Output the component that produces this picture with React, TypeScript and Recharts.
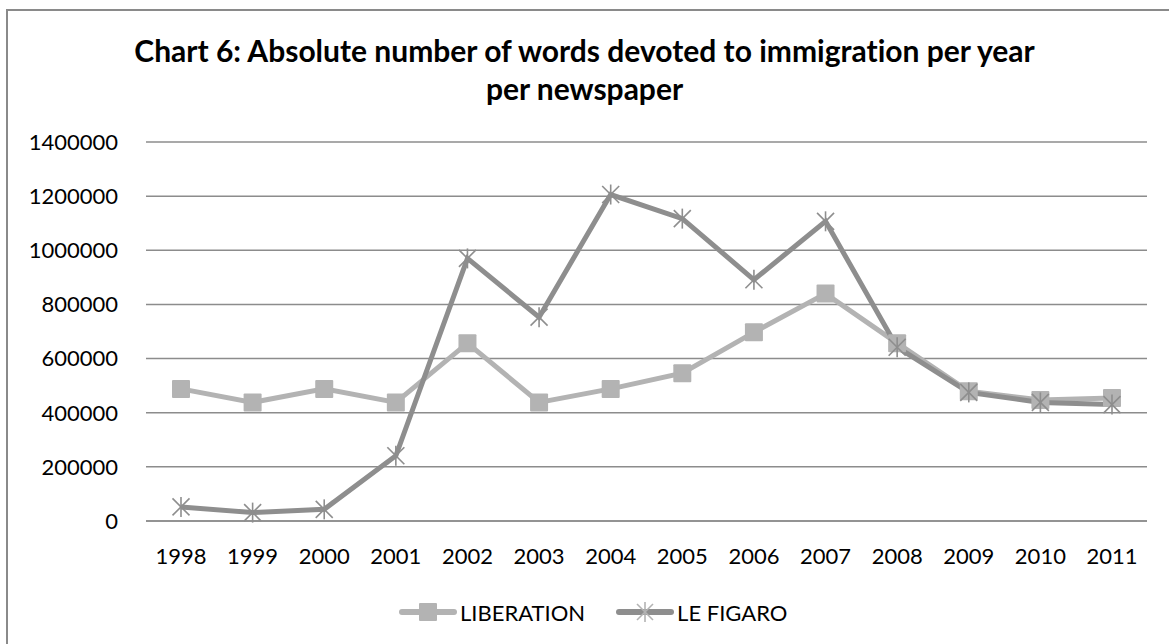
import React from "react";
import { LineChart, Line, XAxis, YAxis, CartesianGrid } from "recharts";

const years = ["1998","1999","2000","2001","2002","2003","2004","2005","2006","2007","2008","2009","2010","2011"];
const liberation = [488000, 438000, 488000, 438000, 657000, 438000, 488000, 546000, 697000, 840000, 657000, 479000, 447000, 454000];
const leFigaro = [52000, 31000, 43000, 241000, 970000, 753000, 1206000, 1117000, 891000, 1107000, 642000, 475000, 438000, 430000];
const yTicks = [0, 200000, 400000, 600000, 800000, 1000000, 1200000, 1400000];

const data = years.map((y, i) => ({ year: y, LIBERATION: liberation[i], "LE FIGARO": leFigaro[i] }));

const LIB_COLOR = "#b3b3b3";
const FIG_COLOR = "#8e8e8e";
const FONT = "Lato, 'Liberation Sans', Arial, sans-serif";

const SquareDot = (props: any) => {
  const { cx, cy } = props;
  if (cx == null || cy == null) return null;
  const s = 18;
  return <rect x={cx - s / 2} y={cy - s / 2} width={s} height={s} fill={LIB_COLOR} rx={1} />;
};

const StarDot = (props: any) => {
  const { cx, cy } = props;
  if (cx == null || cy == null) return null;
  const r = 10;
  const d = r * 0.85;
  return (
    <g stroke={FIG_COLOR} strokeWidth={1.6}>
      <line x1={cx - d} y1={cy - d} x2={cx + d} y2={cy + d} />
      <line x1={cx - d} y1={cy + d} x2={cx + d} y2={cy - d} />
      <line x1={cx} y1={cy - r} x2={cx} y2={cy + r} />
    </g>
  );
};

export default function App() {
  return (
    <div style={{ position: "fixed", left: 0, top: 0, width: 1169, height: 644, overflow: "hidden", background: "#fff", fontFamily: FONT, fontVariantLigatures: "none" }}>
      <div style={{ position: "absolute", left: 6, top: 9, width: 1200, height: 700, border: "2px solid #8a8a8a", boxSizing: "border-box" }} />
      <div style={{ position: "absolute", top: 31, left: 0, width: 1169, textAlign: "center", fontWeight: "bold", fontSize: 30, lineHeight: "38px", color: "#000", fontFamily: FONT, fontVariantLigatures: "none" }}>
        Chart 6: Absolute number of words devoted to immigration per year
        <br />
        per newspaper
      </div>
      <div style={{ position: "absolute", top: 0, left: 0 }}>
        <LineChart width={1169} height={644} data={data} margin={{ top: 142, right: 22, left: 0, bottom: 93 }}>
          <CartesianGrid horizontal={true} vertical={false} stroke="#8c8c8c" strokeWidth={1.5} />
          <XAxis dataKey="year" axisLine={{ stroke: "#8c8c8c", strokeWidth: 1.5 }} tickLine={false} tickSize={0} tickMargin={27}
            padding={{ left: 35, right: 35 }} height={30}
            tick={{ fill: "#000", fontSize: 22, fontFamily: FONT }} interval={0} />
          <YAxis width={146} domain={[0, 1400000]} ticks={yTicks} axisLine={false} tickLine={false} tickSize={0} tickMargin={28}
            tick={{ fill: "#000", fontSize: 22, fontFamily: FONT }} interval={0} />
          <Line dataKey="LIBERATION" stroke={LIB_COLOR} strokeWidth={5} dot={<SquareDot />} activeDot={false} isAnimationActive={false} />
          <Line dataKey="LE FIGARO" stroke={FIG_COLOR} strokeWidth={5} dot={<StarDot />} activeDot={false} isAnimationActive={false} />
        </LineChart>
      </div>
      <div style={{ position: "absolute", top: 598, left: 399, height: 28, display: "flex", alignItems: "center", fontSize: 22, color: "#000" }}>
        <svg width={58} height={24}>
          <line x1={3} y1={12} x2={55} y2={12} stroke={LIB_COLOR} strokeWidth={6} strokeLinecap="round" />
          <rect x={20} y={3} width={18} height={18} fill={LIB_COLOR} rx={1} />
        </svg>
        <span style={{ marginLeft: 3 }}>LIBERATION</span>
        <svg width={58} height={24} style={{ marginLeft: 31 }}>
          <line x1={3} y1={12} x2={55} y2={12} stroke={FIG_COLOR} strokeWidth={6} strokeLinecap="round" />
          <g stroke={LIB_COLOR} strokeWidth={1.6}>
            <line x1={21} y1={4} x2={37} y2={20} />
            <line x1={21} y1={20} x2={37} y2={4} />
            <line x1={29} y1={2} x2={29} y2={22} />
          </g>
        </svg>
        <span style={{ marginLeft: 3 }}>LE FIGARO</span>
      </div>
    </div>
  );
}
